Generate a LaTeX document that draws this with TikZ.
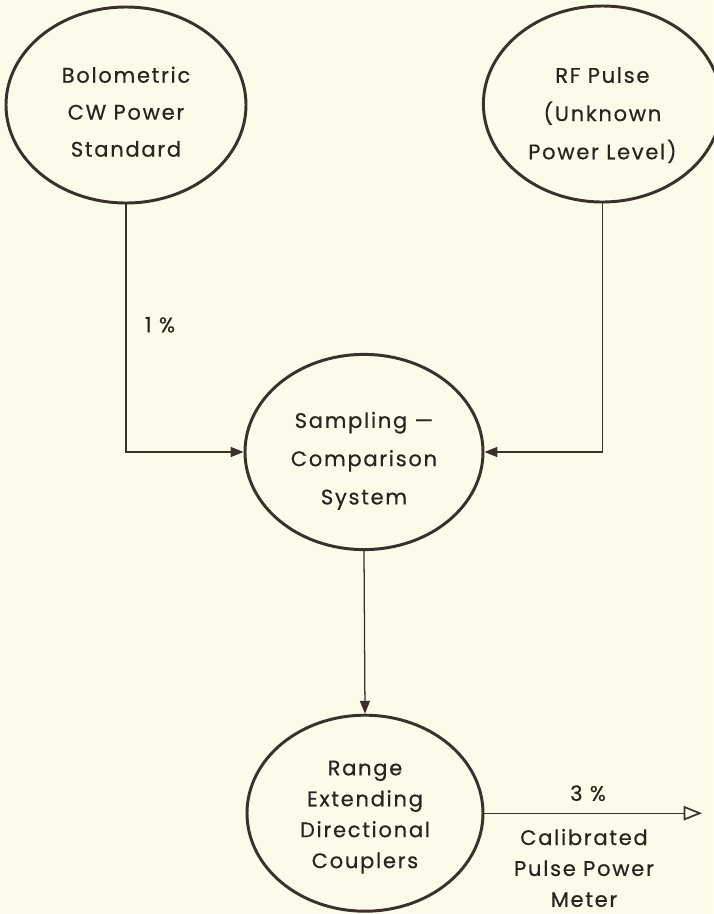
\documentclass[tikz,border=0pt]{standalone}
\usepackage{fontspec}
\usepackage{xcolor}
\usepackage{tikz}
\usetikzlibrary{shapes,positioning,arrows.meta}
\newfontfamily\lettering[LetterSpace=8,FakeBold=0.5]{Poppins}
\definecolor{paper}{HTML}{FCFBEA}
\definecolor{ink}{HTML}{3A302C}
\definecolor{lead}{HTML}{2A2420}
\newcommand{\dropline}[1]{\rule{0pt}{#1}}

\begin{document}
\begin{tikzpicture}[
    block/.style={ellipse, draw=ink, line width=2.1pt, inner sep=0pt, text=lead, align=center,
      font=\lettering\fontsize{15}{26.3}\selectfont},
    small/.style={text=lead, align=center, font=\lettering\fontsize{15}{22}\selectfont},
    conn/.style={draw=ink, line width=0.9pt, -{Triangle[length=3.2mm,width=2.5mm]}}
  ]
    % Page
    \fill[paper] (0,0) rectangle (17.825,-22.85);
    \useasboundingbox (0,0) rectangle (17.825,-22.85);

    % Blocks
    \node[block, minimum width=6cm, minimum height=4.9cm] (bolo) at (3.15,-2.625)
      {\dropline{21pt}Bolometric\\CW Power\\Standard};
    \node[block, minimum width=5.95cm, minimum height=4.9cm,
      font=\lettering\fontsize{15}{27.2}\selectfont] (rf) at (15.06,-2.6)
      {\dropline{27pt}RF Pulse\\(Unknown\\Power Level)};
    \node[block, minimum width=5.95cm, minimum height=4.88cm,
      font=\lettering\fontsize{15}{27.2}\selectfont] (samp) at (9.1,-11.3)
      {\dropline{24pt}Sampling —\\Comparison\\System};
    \node[block, minimum width=5.9cm, minimum height=4.9cm,
      font=\lettering\fontsize{15}{22}\selectfont] (range) at (9.125,-20.33)
      {\dropline{16pt}Range\\Extending\\Directional\\Couplers};

    % Connectors
    \draw[conn] (bolo.south) |- (samp.west);
    \draw[conn] (rf.south) |- (samp.east);
    \draw[conn] (samp.south) -- (range.north);
    \coordinate (meter) at (17.55,-20.33);
    \draw[conn, -{Triangle[open,length=4.6mm,width=3.6mm,line width=1.2pt]}] (range.east) -- (meter);

    % Labels
    \node[small] (one) at (4.0,-8.12) {1 \%};
    \node[small] (three) at (14.7,-19.83) {3 \%};
    \node[small] (cal) at (14.6,-21.7) {Calibrated\\Pulse Power\\Meter};
\end{tikzpicture}
\end{document}
